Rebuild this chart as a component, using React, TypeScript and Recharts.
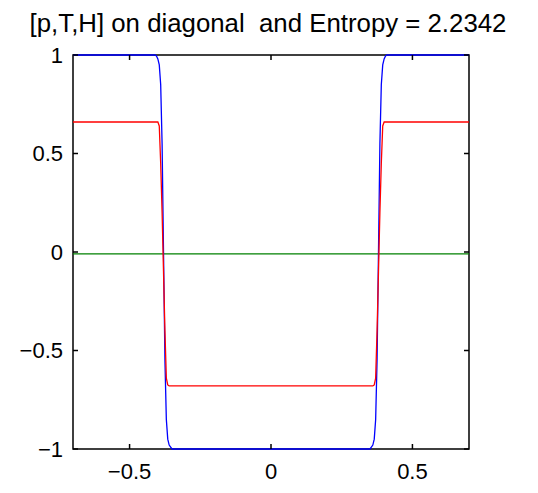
import { LineChart, Line, XAxis, YAxis, ReferenceArea } from "recharts";

// sample positions along the diagonal
const xs = [
  -0.7, -0.41, -0.405, -0.4, -0.395, -0.39, -0.385, -0.38, -0.375, -0.37, -0.365, -0.36, -0.35,
  0,
  0.35, 0.36, 0.365, 0.37, 0.375, 0.38, 0.385, 0.39, 0.395, 0.4, 0.405, 0.41, 0.7,
];
const pValues = [
  1, 1, 0.995, 0.98, 0.95, 0.85, 0.55, 0, -0.55, -0.85, -0.95, -0.98, -1,
  -1,
  -1, -0.98, -0.95, -0.85, -0.55, 0, 0.55, 0.85, 0.95, 0.98, 0.995, 1, 1,
];
const tValues = [
  0.66, 0.66, 0.66, 0.66, 0.64, 0.45, 0.2, -0.1, -0.4, -0.64, -0.675, -0.68, -0.68,
  -0.68,
  -0.68, -0.68, -0.675, -0.64, -0.4, -0.1, 0.2, 0.45, 0.64, 0.66, 0.66, 0.66, 0.66,
];
const hValues = [
  -0.01, -0.01, -0.01, -0.01, -0.01, -0.01, -0.01, -0.01, -0.01, -0.01, -0.01, -0.01, -0.01,
  -0.01,
  -0.01, -0.01, -0.01, -0.01, -0.01, -0.01, -0.01, -0.01, -0.01, -0.01, -0.01, -0.01, -0.01,
];
const xTicks = [-0.5, 0, 0.5];
const yTicks = [-1, -0.5, 0, 0.5, 1];
const xDomain: [number, number] = [-0.7, 0.7];
const yDomain: [number, number] = [-1, 1];
const title = "[p,T,H] on diagonal  and Entropy = 2.2342";

const font = "'Liberation Sans', Arial, Helvetica, sans-serif";
const fmt = (v: number) => (v < 0 ? "\u2212" + Math.abs(v) : String(v));
const blank = () => "";

export default function App() {
  const data = xs.map((x, i) => ({ x, p: pValues[i], t: tValues[i], h: hValues[i] }));
  const axisStyle = { stroke: "#000", strokeWidth: 1.5 };
  const tickStyle = { fill: "#000", fontSize: 22, fontFamily: font };

  return (
    <div style={{ position: "absolute", left: 0, top: 0, width: 538, height: 493, background: "#fff" }}>
      <div
        style={{
          position: "absolute",
          left: 0,
          width: 536,
          top: 9,
          textAlign: "center",
          fontFamily: font,
          fontSize: 25.8,
          lineHeight: "28px",
          color: "#000",
          whiteSpace: "pre",
        }}
      >
        {title}
      </div>
      <LineChart width={538} height={493} data={data} margin={{ top: 45, right: 59, bottom: 14, left: 0 }}>
        <XAxis
          xAxisId="b"
          dataKey="x"
          type="number"
          domain={xDomain}
          ticks={xTicks}
          tickFormatter={fmt}
          height={30}
          tickSize={-5}
          tickMargin={19}
          axisLine={false}
          tickLine={axisStyle}
          tick={tickStyle}
        />
        <XAxis
          xAxisId="t"
          orientation="top"
          dataKey="x"
          type="number"
          domain={xDomain}
          ticks={xTicks}
          tickFormatter={blank}
          height={10}
          tickSize={-5}
          axisLine={false}
          tickLine={axisStyle}
        />
        <YAxis
          yAxisId="l"
          type="number"
          domain={yDomain}
          ticks={yTicks}
          tickFormatter={fmt}
          width={73}
          tickSize={-5}
          tickMargin={15}
          axisLine={false}
          tickLine={axisStyle}
          tick={tickStyle}
        />
        <YAxis
          yAxisId="r"
          orientation="right"
          type="number"
          domain={yDomain}
          ticks={yTicks}
          tickFormatter={blank}
          width={10}
          tickSize={-5}
          axisLine={false}
          tickLine={axisStyle}
        />
        <ReferenceArea
          xAxisId="b"
          yAxisId="l"
          x1={xDomain[0]}
          x2={xDomain[1]}
          y1={yDomain[0]}
          y2={yDomain[1]}
          fill="none"
          fillOpacity={0}
          stroke="#000"
          strokeWidth={1.5}
          ifOverflow="visible"
        />
        <Line xAxisId="b" yAxisId="l" dataKey="h" stroke="#008000" strokeWidth={1.3} dot={false} type="linear" isAnimationActive={false} />
        <Line xAxisId="b" yAxisId="l" dataKey="p" stroke="#0000ff" strokeWidth={1.3} dot={false} type="linear" isAnimationActive={false} />
        <Line xAxisId="b" yAxisId="l" dataKey="t" stroke="#ff0000" strokeWidth={1.3} dot={false} type="linear" isAnimationActive={false} />
        <Line xAxisId="t" yAxisId="r" dataKey="h" stroke="none" dot={false} legendType="none" isAnimationActive={false} />
      </LineChart>
    </div>
  );
}
